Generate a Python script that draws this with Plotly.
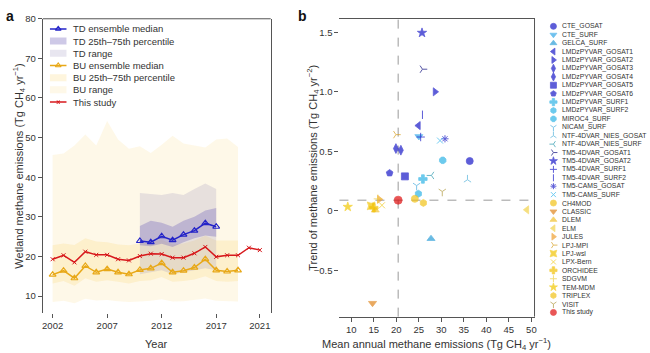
import plotly.graph_objects as go

# ---------------- Panel a data ----------------
years_all = [2002, 2003, 2004, 2005, 2006, 2007, 2008, 2009, 2010, 2011,
             2012, 2013, 2014, 2015, 2016, 2017, 2018, 2019, 2020, 2021]
this_study = [19.3, 20.3, 18.5, 21.2, 20.4, 20.4, 19.3, 19.0, 20.1, 20.7,
              20.6, 19.7, 19.7, 20.8, 22.4, 19.9, 20.3, 20.3, 22.2, 21.6]

bu_years = [2002, 2003, 2004, 2005, 2006, 2007, 2008, 2009, 2010, 2011,
            2012, 2013, 2014, 2015, 2016, 2017, 2018, 2019]
bu_median = [15.4, 16.4, 14.5, 17.6, 16.0, 16.8, 16.0, 15.5, 16.6, 17.0,
             18.3, 16.0, 16.4, 17.2, 19.3, 16.5, 16.2, 16.5]
bu_q25 = [13.2, 13.8, 12.6, 14.5, 13.6, 14.0, 13.6, 13.2, 13.8, 14.0,
          14.8, 13.6, 13.8, 14.2, 15.0, 13.8, 13.6, 13.8]
bu_q75 = [22.8, 23.3, 22.9, 24.6, 23.8, 23.6, 23.0, 22.8, 23.3, 23.6,
          24.2, 23.0, 23.3, 24.0, 25.2, 24.0, 24.0, 24.0]
bu_min = [8.5, 8.8, 8.2, 9.3, 8.9, 9.0, 8.7, 8.5, 8.6, 8.8,
          9.2, 8.6, 8.7, 9.0, 9.4, 8.8, 8.7, 8.6]
bu_max = [45.6, 46.0, 48.0, 50.8, 48.0, 54.2, 49.5, 47.2, 47.8, 46.1,
          48.2, 50.5, 48.5, 48.0, 47.5, 49.5, 49.8, 47.6]

td_years = [2010, 2011, 2012, 2013, 2014, 2015, 2016, 2017]
td_median = [23.9, 23.6, 25.1, 24.1, 25.5, 26.5, 28.4, 27.5]
td_q25 = [22.8, 22.6, 23.2, 22.4, 23.6, 24.6, 25.3, 25.0]
td_q75 = [27.7, 29.0, 28.5, 27.5, 29.0, 30.0, 31.6, 32.2]
td_min = [15.5, 16.0, 16.5, 15.5, 16.0, 16.5, 17.0, 16.5]
td_max = [36.0, 35.8, 35.5, 36.0, 35.5, 37.0, 38.4, 37.0]

year_ticks = [2002, 2007, 2012, 2017, 2021]
emis_ticks = [10, 20, 30, 40, 50, 60, 70, 80]

# ---------------- Panel b data ----------------
models = ["CTE_GOSAT", "CTE_SURF", "GELCA_SURF",
          "LMDzPYVAR_GOSAT1", "LMDzPYVAR_GOSAT2", "LMDzPYVAR_GOSAT3",
          "LMDzPYVAR_GOSAT4", "LMDzPYVAR_GOSAT5", "LMDzPYVAR_GOSAT6",
          "LMDzPYVAR_SURF1", "LMDzPYVAR_SURF2", "MIROC4_SURF", "NICAM_SURF",
          "NTF-4DVAR_NIES_GOSAT", "NTF-4DVAR_NIES_SURF",
          "TM5-4DVAR_GOSAT1", "TM5-4DVAR_GOSAT2", "TM5-4DVAR_SURF1",
          "TM5-4DVAR_SURF2", "TM5-CAMS_GOSAT", "TM5-CAMS_SURF",
          "CH4MOD", "CLASSIC", "DLEM", "ELM", "JULES", "LPJ-MPI", "LPJ-wsl",
          "LPX-Bern", "ORCHIDEE", "SDGVM", "TEM-MDM", "TRIPLEX", "VISIT",
          "This study"]
mean_emis = [36.3, 25.0, 27.7,
             24.9, 28.6, 19.9,
             21.0, 21.9, 18.5,
             25.9, 24.9, 30.3, 24.5,
             35.8, 27.8,
             25.8, 25.7, 25.4,
             25.8, 30.8, 29.7,
             24.1, 14.7, 15.3, 49.0, 16.2, 19.9, 14.4,
             16.8, 15.0, 15.9, 9.2, 26.0, 30.2,
             20.4]
trend = [0.418, 0.625, -0.235,
         0.716, 1.00, 0.523,
         0.509, 0.289, 0.317,
         0.267, 0.143, 0.424, 0.212,
         0.261, 0.297,
         1.19, 1.496, 0.62,
         0.807, 0.605, 0.59,
         0.10, -0.777, 0.005, 0.008, 0.096, 0.64, 0.041,
         0.046, 0.025, 0.10, 0.033, 0.066, 0.162,
         0.089]
symbols = ["circle", "triangle-down", "triangle-up",
           "triangle-left", "triangle-right", "diamond-tall",
           "diamond-tall", "square", "pentagon",
           "cross", "hexagon", "octagon", "y-down",
           "y-up", "y-left",
           "y-right", "star", "cross-thin",
           "line-ns", "asterisk", "x-thin",
           "circle", "triangle-down", "triangle-up", "triangle-left",
           "triangle-right", "y-right", "star-square",
           "x-thin", "cross", "cross-thin", "star", "hexagon", "y-down",
           "circle"]
colors = ["#1a1ac8", "#35a8e8", "#2a9ed8",
          "#1a1ac8", "#1a1ac8", "#1a1ac8",
          "#1a1ac8", "#1a1ac8", "#1a1ac8",
          "#2fb4e6", "#2fb4e6", "#2fb4e6", "#4aaee0",
          "#55b4dc", "#2f9bb0",
          "#101080", "#1a1ac8", "#1a1ac8",
          "#1a1ac8", "#1a1ac8", "#35b8ee",
          "#f2c318", "#e0861e", "#f2c22e", "#f2d24a",
          "#f0a030", "#d8a020", "#f2c400",
          "#f2cc20", "#f2c000", "#efd040", "#f2c800", "#f2c318", "#b09a40",
          "#e01010"]

x_ticks_b = [10, 15, 20, 25, 30, 35, 40, 45, 50]
y_ticks_b = [-0.5, 0, 0.5, 1.0, 1.5]
y_ticktext_b = ["−0.5", "0", "0.5", "1.0", "1.5"]

# ---------------- styles ----------------
FONT = "Liberation Sans, Arial, sans-serif"
C_TD = "rgb(35,35,200)"
C_BU = "rgb(232,168,23)"
C_RED = "rgb(215,25,28)"
F_BU_RANGE = "rgba(250,225,150,0.22)"
F_BU_IQR = "rgba(250,215,120,0.25)"
F_TD_RANGE = "rgba(140,130,180,0.2)"
F_TD_IQR = "rgba(115,100,185,0.35)"
W, H = 650, 353
LINE_SYMS = {"y-up", "y-down", "y-left", "y-right", "cross-thin", "x-thin",
             "line-ns", "asterisk"}

def px_x(p):
    return p / W

def px_y(p):
    return 1 - p / H

fig = go.Figure()

def band(x, lo, hi, fill):
    fig.add_trace(go.Scatter(x=x, y=lo, mode="lines", line=dict(width=0),
                             showlegend=False, hoverinfo="skip", xaxis="x", yaxis="y"))
    fig.add_trace(go.Scatter(x=x, y=hi, mode="lines", line=dict(width=0),
                             fill="tonexty", fillcolor=fill, showlegend=False,
                             hoverinfo="skip", xaxis="x", yaxis="y"))

band(bu_years, bu_min, bu_max, F_BU_RANGE)
band(bu_years, bu_q25, bu_q75, F_BU_IQR)
band(td_years, td_min, td_max, F_TD_RANGE)
band(td_years, td_q25, td_q75, F_TD_IQR)

fig.add_trace(go.Scatter(x=bu_years, y=bu_median, mode="lines+markers",
                         line=dict(color=C_BU, width=1.5),
                         marker=dict(symbol="triangle-up-open", size=6, color=C_BU,
                                     line=dict(width=1.2)),
                         showlegend=False, xaxis="x", yaxis="y"))
fig.add_trace(go.Scatter(x=td_years, y=td_median, mode="lines+markers",
                         line=dict(color=C_TD, width=1.5),
                         marker=dict(symbol="triangle-up-open", size=6, color=C_TD,
                                     line=dict(width=1.2)),
                         showlegend=False, xaxis="x", yaxis="y"))
fig.add_trace(go.Scatter(x=years_all, y=this_study, mode="lines+markers",
                         line=dict(color=C_RED, width=1.5),
                         marker=dict(symbol="x-thin", size=4, color=C_RED,
                                     line=dict(width=1, color=C_RED)),
                         showlegend=False, xaxis="x", yaxis="y"))

# ---------------- Panel a legend (manual) ----------------
leg_a_labels = ["TD ensemble median", "TD 25th–75th percentile", "TD range",
                "BU ensemble median", "BU 25th–75th percentile", "BU range",
                "This study"]
leg_a_kind = ["line", "fill", "fill", "line", "fill", "fill", "line"]
leg_a_color = [C_TD, F_TD_IQR, F_TD_RANGE, C_BU, F_BU_IQR, F_BU_RANGE, C_RED]
leg_a_marker = ["triangle-up-open", None, None, "triangle-up-open", None, None, "x-thin"]

for i, (lab, kind, col, mk) in enumerate(zip(leg_a_labels, leg_a_kind, leg_a_color, leg_a_marker)):
    if kind == "line":
        fig.add_trace(go.Scatter(x=[0, 1], y=[i, i], mode="lines", line=dict(color=col, width=1.5),
                                 showlegend=False, hoverinfo="skip", xaxis="x3", yaxis="y3",
                                 cliponaxis=False))
        fig.add_trace(go.Scatter(x=[0.5], y=[i], mode="markers",
                                 marker=dict(symbol=mk, size=5 if "tri" in mk else 3, color=col,
                                             line=dict(width=1.1, color=col)),
                                 showlegend=False, hoverinfo="skip", xaxis="x3", yaxis="y3",
                                 cliponaxis=False))
    else:
        fig.add_trace(go.Scatter(x=[0, 1], y=[i, i], mode="lines", line=dict(color=col, width=7),
                                 showlegend=False, hoverinfo="skip", xaxis="x3", yaxis="y3",
                                 cliponaxis=False))
    fig.add_annotation(x=px_x(70), xref="paper", y=i, yref="y3", text=lab,
                       showarrow=False, xanchor="left", yanchor="middle",
                       font=dict(size=9.5, color="#333", family=FONT))

# ---------------- Panel b ----------------
ts_x = mean_emis[models.index("This study")]
ts_y = trend[models.index("This study")]

fig.add_shape(type="line", xref="x2", yref="y2 domain", x0=ts_x, x1=ts_x, y0=0, y1=1,
              line=dict(color="#9a9a9a", width=1, dash="dash"), layer="below")
fig.add_shape(type="line", xref="x2 domain", yref="y2", x0=0, x1=1, y0=ts_y, y1=ts_y,
              line=dict(color="#9a9a9a", width=1, dash="dash"), layer="below")

sizes = [8 if m == "This study" else (6 if s in LINE_SYMS else 7)
         for m, s in zip(models, symbols)]
widths = [1.0 if s in LINE_SYMS else 0.8 for s in symbols]
fig.add_trace(go.Scatter(x=mean_emis, y=trend, mode="markers",
                         marker=dict(symbol=symbols, color=colors, size=sizes,
                                     line=dict(color=colors, width=widths)),
                         text=models, showlegend=False, xaxis="x2", yaxis="y2",
                         cliponaxis=False))

# manual legend for panel b
idx = list(range(len(models)))
leg_sizes = [5 if s in LINE_SYMS else 6 for s in symbols]
fig.add_trace(go.Scatter(x=[0.5] * len(models), y=idx, mode="markers",
                         marker=dict(symbol=symbols, color=colors, size=leg_sizes,
                                     line=dict(color=colors, width=widths)),
                         showlegend=False, hoverinfo="skip", xaxis="x4", yaxis="y4",
                         cliponaxis=False))
for i, m in enumerate(models):
    fig.add_annotation(x=px_x(562), xref="paper", y=i, yref="y4", text=m,
                       showarrow=False, xanchor="left", yanchor="middle",
                       font=dict(size=6.8, color="#333", family=FONT))

# axis frame lines
fig.add_shape(type="line", xref="x domain", yref="y domain", x0=0, x1=1, y0=1, y1=1,
              line=dict(color="#555", width=1))
fig.add_shape(type="line", xref="x2 domain", yref="y2 domain", x0=1, x1=1, y0=0, y1=1,
              line=dict(color="#555", width=1))

tickfont = dict(size=9.5, color="#333", family=FONT)
common = dict(showgrid=False, zeroline=False, ticks="outside", ticklen=4,
              tickcolor="#555", tickfont=tickfont, linecolor="#555", linewidth=1)

leg_a_top, leg_a_step = 17.1, 12.4
leg_b_top, leg_b_step = 16.4, 8.56

fig.update_layout(
    width=W, height=H,
    margin=dict(l=0, r=0, t=0, b=0),
    paper_bgcolor="white", plot_bgcolor="rgba(0,0,0,0)",
    font=dict(family=FONT, color="#333"),
    showlegend=False,
    xaxis=dict(domain=[px_x(42), px_x(271)], range=[2001.1, 2022], tickvals=year_ticks,
               showline=False, anchor="y", **common),
    yaxis=dict(domain=[px_y(312), px_y(13)], range=[5.8, 80], tickvals=emis_ticks,
               showline=True, mirror=True, anchor="x", **common),
    xaxis2=dict(domain=[px_x(340), px_x(536)], range=[7.35, 50.7], tickvals=x_ticks_b,
                showline=True, mirror=True, anchor="y2", **common),
    yaxis2=dict(domain=[px_y(316), px_y(13)], range=[-0.89, 1.614], tickvals=y_ticks_b,
                ticktext=y_ticktext_b, showline=False, anchor="x2", **common),
    xaxis3=dict(domain=[px_x(49), px_x(66)], range=[0, 1], visible=False, anchor="y3"),
    yaxis3=dict(domain=[px_y(leg_a_top + leg_a_step * len(leg_a_labels)), px_y(leg_a_top)],
                range=[len(leg_a_labels) - 0.5, -0.5], visible=False, anchor="x3"),
    xaxis4=dict(domain=[px_x(551), px_x(559)], range=[0, 1], visible=False, anchor="y4"),
    yaxis4=dict(domain=[px_y(leg_b_top + leg_b_step * len(models)), px_y(leg_b_top)],
                range=[len(models) - 0.5, -0.5], visible=False, anchor="x4"),
)

# titles and panel letters
ann_font = dict(size=11, color="#333", family=FONT)
def title_ann(x, y, text, angle=0):
    fig.add_annotation(x=px_x(x), y=px_y(y), xref="paper", yref="paper", textangle=angle,
                       text=text, showarrow=False, xanchor="center", yanchor="middle",
                       font=ann_font)

title_ann(18, 162.5, "Wetland methane emissions (Tg CH<sub>4</sub> yr<sup>−1</sup>)", -90)
title_ann(156.5, 344, "Year")
title_ann(314, 165, "Trend of methane emissions (Tg CH<sub>4</sub> yr<sup>−2</sup>)", -90)
title_ann(438, 344, "Mean annual methane emissions (Tg CH<sub>4</sub> yr<sup>−1</sup>)")

fig.add_annotation(x=px_x(3), y=px_y(10), xref="paper", yref="paper", text="<b>a</b>",
                   showarrow=False, xanchor="left", yanchor="middle",
                   font=dict(size=14, color="#111", family=FONT))
fig.add_annotation(x=px_x(296), y=px_y(10), xref="paper", yref="paper", text="<b>b</b>",
                   showarrow=False, xanchor="left", yanchor="middle",
                   font=dict(size=14, color="#111", family=FONT))

fig.write_html("out.html")
